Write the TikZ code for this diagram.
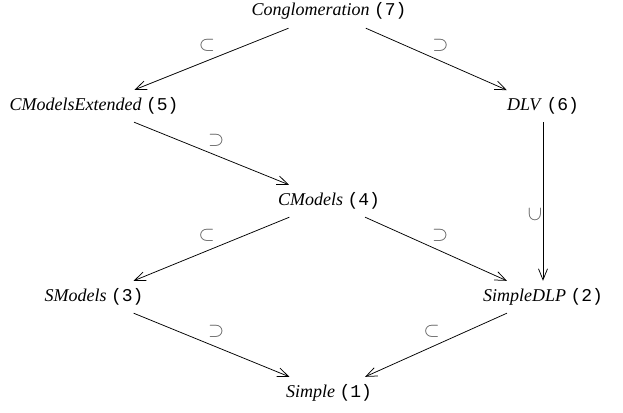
\documentclass[tikz,border=0pt]{standalone}
\usepackage{fontspec}
\setmainfont{Liberation Serif}
\setmonofont{Liberation Mono}
\usetikzlibrary{arrows.meta}

\begin{document}
\begin{tikzpicture}[x=1pt, y=-1pt,
                    every node/.style={font=\fontsize{18}{21}\selectfont},
                    prog/.style={inner sep=0pt, minimum height=32pt,
                                 text height=12pt, text depth=4pt},
                    incl/.style={line width=0.75pt,
                                 -{Straight Barb[length=11pt,width=9pt]}},
                    rel/.style={inner sep=0pt, text=black!65, pos=0.53,
                                font=\fontsize{21}{24}\selectfont}]
  \useasboundingbox (0,0) rectangle (623,412);

  \node[prog] (congl)   at (329,12)  {\textit{Conglomeration} \texttt{(7)}};
  \node[prog] (cmext)   at (94,106)  {\textit{CModelsExtended} \texttt{(5)}};
  \node[prog] (dlv)     at (543,106) {\textit{DLV} \texttt{(6)}};
  \node[prog] (cmodels) at (329,201) {\textit{CModels} \texttt{(4)}};
  \node[prog] (smodels) at (94,297)  {\textit{SModels} \texttt{(3)}};
  \node[prog] (sdlp)    at (543,297) {\textit{SimpleDLP} \texttt{(2)}};
  \node[prog] (simple)  at (329,393) {\textit{Simple} \texttt{(1)}};

  \draw[incl] (congl)   -- node[rel, above=9pt] {$\subset$} (cmext);
  \draw[incl] (congl)   -- node[rel, above=9pt] {$\supset$} (dlv);
  \draw[incl] (cmext)   -- node[rel, above=9pt] {$\supset$} (cmodels);
  \draw[incl] (dlv)     -- node[rel, left=8pt, rotate=90] {$\subset$} (sdlp);
  \draw[incl] (cmodels) -- node[rel, above=9pt] {$\subset$} (smodels);
  \draw[incl] (cmodels) -- node[rel, above=9pt] {$\supset$} (sdlp);
  \draw[incl] (smodels) -- node[rel, above=9pt] {$\supset$} (simple);
  \draw[incl] (sdlp)    -- node[rel, above=9pt] {$\subset$} (simple);
\end{tikzpicture}
\end{document}
